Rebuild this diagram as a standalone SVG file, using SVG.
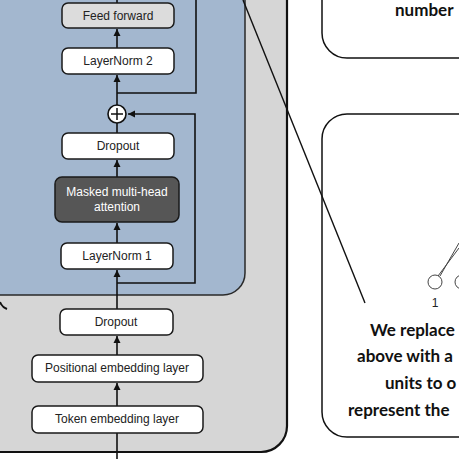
<svg xmlns="http://www.w3.org/2000/svg" width="459" height="459" viewBox="0 0 459 459">
<defs>
<marker id="ah" viewBox="0 0 8 8" refX="8" refY="4" markerWidth="7" markerHeight="8" markerUnits="userSpaceOnUse" orient="auto"><path d="M0,0 L8,4 L0,8 z" fill="#111"/></marker>
<style>
.box{fill:#fff;stroke:#1a1a1a;stroke-width:1.5}
.lbl{font-family:"Liberation Sans",Arial,sans-serif;font-size:12px;fill:#222;text-anchor:middle}
.big{font-family:Lato,"Open Sans",sans-serif;font-size:17px;font-weight:bold;fill:#111}
.ln{fill:none;stroke:#111;stroke-width:1.6}
</style>
</defs>
<rect width="459" height="459" fill="#fff"/>
<g id="outer"><rect x="-30" y="-30" width="317" height="482" rx="26" fill="#d6d6d6" stroke="#111" stroke-width="2.2"/></g>
<g id="block"><rect x="-30" y="-30" width="275" height="325" rx="22" fill="#a3b7cf" stroke="#2a2a2a" stroke-width="1.5"/></g>
<path d="M0,302 Q2,307 7,309" fill="none" stroke="#111" stroke-width="2"/>
<g id="panel-top"><rect x="322" y="-40" width="180" height="98" rx="25" fill="#fff" stroke="#111" stroke-width="1.5"/><text class="big" x="395" y="16">number</text></g>
<g id="panel-bottom"><rect x="322" y="114" width="180" height="323" rx="25" fill="#fff" stroke="#111" stroke-width="1.5"/>
<circle cx="435" cy="282" r="7" fill="#fff" stroke="#444" stroke-width="1"/>
<circle cx="462" cy="282" r="7" fill="#fff" stroke="#444" stroke-width="1"/>
<line x1="438" y1="276" x2="459" y2="248" stroke="#444" stroke-width="1"/>
<line x1="440" y1="276" x2="459" y2="243" stroke="#444" stroke-width="1"/>
<text x="435" y="307" font-family="'Liberation Sans',Arial,sans-serif" font-size="12" fill="#222" text-anchor="middle">1</text>
<text class="big" x="370" y="336">We replace</text>
<text class="big" x="357" y="362">above with a</text>
<text class="big" x="385" y="389">units to o</text>
<text class="big" x="348" y="416">represent the</text>
</g>
<g id="connectors">
<line class="ln" x1="117" y1="459" x2="117" y2="433"/>
<line class="ln" x1="117" y1="406" x2="117" y2="383" marker-end="url(#ah)"/>
<line class="ln" x1="117" y1="355" x2="117" y2="336" marker-end="url(#ah)"/>
<line class="ln" x1="117" y1="309" x2="117" y2="270" marker-end="url(#ah)"/>
<line class="ln" x1="117" y1="243" x2="117" y2="223" marker-end="url(#ah)"/>
<line class="ln" x1="117" y1="177" x2="117" y2="160" marker-end="url(#ah)"/>
<line class="ln" x1="117" y1="133" x2="117" y2="123"/>
<line class="ln" x1="117" y1="105" x2="117" y2="75" marker-end="url(#ah)"/>
<line class="ln" x1="117" y1="48" x2="117" y2="29" marker-end="url(#ah)"/>
<line class="ln" x1="117" y1="3" x2="117" y2="0"/>
<polyline class="ln" points="117,283 195,283 195,114 128,114" marker-end="url(#ah)"/>
<polyline class="ln" points="117,93 196,93 196,0"/>
<line x1="243" y1="0" x2="365" y2="303" stroke="#111" stroke-width="1.4"/>
</g>
<g id="feed-forward"><rect class="box" x="62" y="3" width="112" height="25" rx="6" style="fill:#dcdcdc"/><text class="lbl" x="118" y="20">Feed forward</text></g>
<g id="layernorm2"><rect class="box" x="62" y="48" width="112" height="26" rx="6"/><text class="lbl" x="118" y="65">LayerNorm 2</text></g>
<g id="add"><circle cx="117" cy="114" r="9" fill="#fff" stroke="#111" stroke-width="1.6"/><path d="M111,114 H123 M117,108 V120" stroke="#111" stroke-width="1.5"/></g>
<g id="dropout2"><rect class="box" x="62" y="133" width="112" height="26" rx="6"/><text class="lbl" x="118" y="150">Dropout</text></g>
<g id="mmha"><rect class="box" x="55" y="177" width="124" height="45" rx="7" style="fill:#565656"/><text class="lbl" x="117" y="196" style="fill:#fff">Masked multi-head</text><text class="lbl" x="117" y="211" style="fill:#fff">attention</text></g>
<g id="layernorm1"><rect class="box" x="61" y="243" width="112" height="26" rx="6"/><text class="lbl" x="117" y="260">LayerNorm 1</text></g>
<g id="dropout1"><rect class="box" x="60" y="309" width="113" height="26" rx="6"/><text class="lbl" x="116" y="326">Dropout</text></g>
<g id="pos-emb"><rect class="box" x="32" y="355" width="171" height="27" rx="6"/><text class="lbl" x="117" y="372">Positional embedding layer</text></g>
<g id="tok-emb"><rect class="box" x="32" y="406" width="171" height="27" rx="6"/><text class="lbl" x="117" y="423">Token embedding layer</text></g>
</svg>
